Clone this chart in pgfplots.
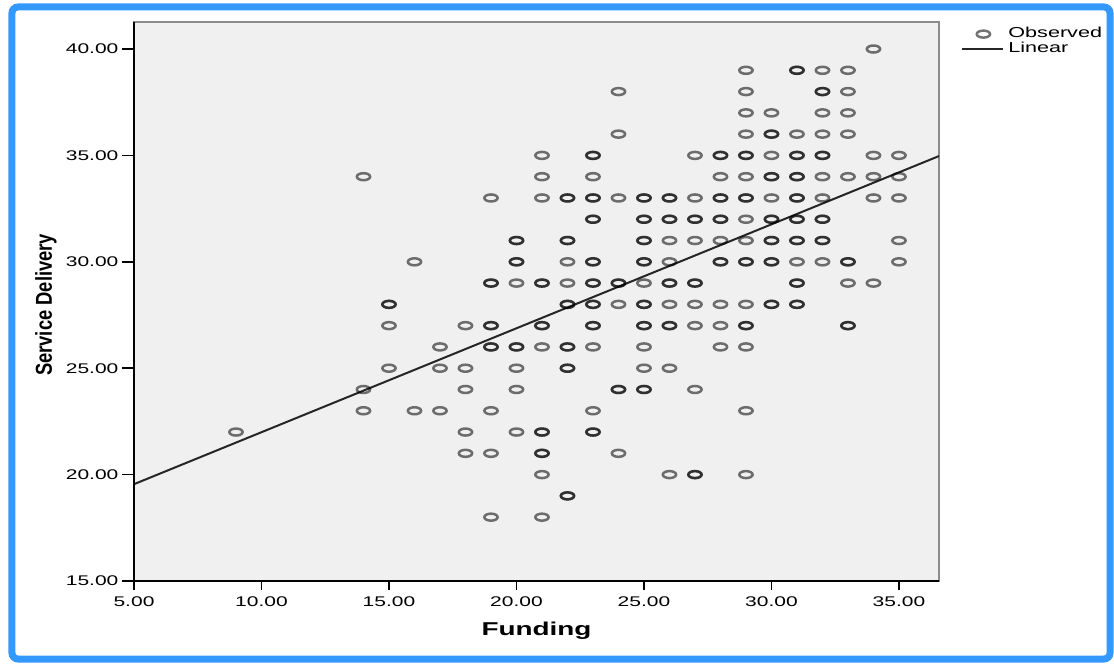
\documentclass[border=0pt]{standalone}
\usepackage{pgfplots}
\pgfplotsset{compat=1.18}
\usepackage{fontspec}
\setmainfont{Liberation Sans}
\newfontfamily\widefont[FakeStretch=1.5]{Liberation Sans}
\newfontfamily\narrowfont[FakeStretch=0.8]{Liberation Sans}
\definecolor{frameblue}{RGB}{51,153,255}
\definecolor{plotbg}{RGB}{240,240,240}
\definecolor{boxgray}{RGB}{140,140,140}
\begin{document}
\begin{tikzpicture}
\useasboundingbox (-67pt,-41.5pt) rectangle (490pt,290.5pt);
\begin{axis}[
  name=ax, at={(0,0)}, anchor=south west,
  scale only axis, width=402.5pt, height=279.5pt,
  xmin=5, xmax=36.57, ymin=15, ymax=41.27,
  clip=false,
  axis background/.style={fill=plotbg},
  axis line style={boxgray, line width=1pt},
  xtick={5,10,...,35}, ytick={15,20,...,40},
  xtick pos=bottom, ytick pos=left,
  minor tick num=0,
  tick align=outside,
  xtick style={/pgfplots/major tick length=4.5pt, black, line width=0.75pt},
  ytick style={/pgfplots/major tick length=6pt, black, line width=0.75pt},
  /pgf/number format/assume math mode=true,
  xticklabel style={/pgf/number format/fixed, /pgf/number format/fixed zerofill, /pgf/number format/precision=2},
  yticklabel style={/pgf/number format/fixed, /pgf/number format/fixed zerofill, /pgf/number format/precision=2},
  tick label style={font=\widefont\fontsize{7}{8}\selectfont},
  scaled ticks=false,
  xlabel={Funding},
  xlabel style={at={(axis description cs:0.5,-0.0894)}, anchor=center, font=\widefont\bfseries\fontsize{9.3}{11}\selectfont},
  ylabel={Service Delivery},
  ylabel style={at={(axis description cs:-0.1093,0.494)}, anchor=center, font=\narrowfont\bfseries\fontsize{11.5}{13}\selectfont},
  legend style={draw=none, fill=none, at={(axis description cs:1,1)}, anchor=north west, xshift=11pt, yshift=-0.5pt, font=\widefont\fontsize{7.2}{8}\selectfont, inner sep=0pt, row sep=-3.5pt, /tikz/every even column/.style={column sep=0pt}},
  legend cell align=left,
  legend image code/.code={\draw[mark repeat=2,mark phase=2,#1] plot coordinates {(0pt,0pt) (10.5pt,0pt) (20.5pt,0pt)};},
]
\addplot[only marks, mark=o, mark size=1.75pt,
  mark options={xscale=1.9, draw=black, draw opacity=0.55, line width=1.25pt}]
coordinates {
(9,22)
(14,34) (14,24) (14,23)
(15,28) (15,28) (15,27) (15,25)
(16,30) (16,23)
(17,26) (17,25) (17,23)
(18,27) (18,25) (18,24) (18,22) (18,21)
(19,33) (19,29) (19,29) (19,27) (19,27) (19,26) (19,26) (19,23) (19,21) (19,18)
(20,31) (20,31) (20,30) (20,30) (20,29) (20,26) (20,26) (20,25) (20,24) (20,22)
(21,35) (21,34) (21,33) (21,29) (21,29) (21,27) (21,27) (21,26) (21,22) (21,22) (21,21) (21,21) (21,20) (21,18)
(22,33) (22,33) (22,31) (22,31) (22,30) (22,29) (22,28) (22,28) (22,26) (22,26) (22,25) (22,25) (22,19) (22,19)
(23,35) (23,35) (23,34) (23,33) (23,33) (23,32) (23,32) (23,30) (23,30) (23,29) (23,29) (23,28) (23,28) (23,27) (23,27) (23,26) (23,23) (23,22) (23,22)
(24,38) (24,36) (24,33) (24,29) (24,29) (24,28) (24,24) (24,24) (24,21)
(25,33) (25,33) (25,32) (25,32) (25,31) (25,31) (25,30) (25,30) (25,29) (25,28) (25,28) (25,27) (25,27) (25,26) (25,25) (25,24) (25,24)
(26,33) (26,33) (26,32) (26,32) (26,31) (26,30) (26,29) (26,29) (26,28) (26,27) (26,27) (26,25) (26,20)
(27,35) (27,33) (27,32) (27,32) (27,31) (27,29) (27,29) (27,28) (27,27) (27,24) (27,20) (27,20)
(28,35) (28,35) (28,34) (28,33) (28,33) (28,32) (28,32) (28,31) (28,30) (28,30) (28,28) (28,27) (28,26)
(29,39) (29,38) (29,37) (29,36) (29,35) (29,35) (29,34) (29,33) (29,33) (29,32) (29,31) (29,30) (29,30) (29,28) (29,27) (29,27) (29,26) (29,23) (29,20)
(30,37) (30,36) (30,36) (30,35) (30,34) (30,34) (30,33) (30,32) (30,32) (30,31) (30,31) (30,30) (30,30) (30,28) (30,28)
(31,39) (31,39) (31,36) (31,35) (31,35) (31,34) (31,34) (31,33) (31,33) (31,32) (31,32) (31,31) (31,31) (31,30) (31,29) (31,29) (31,28) (31,28)
(32,39) (32,38) (32,38) (32,37) (32,36) (32,35) (32,35) (32,34) (32,33) (32,32) (32,32) (32,31) (32,31) (32,30)
(33,39) (33,38) (33,37) (33,36) (33,34) (33,30) (33,30) (33,29) (33,27) (33,27)
(34,40) (34,35) (34,34) (34,33) (34,29)
(35,35) (35,34) (35,33) (35,31) (35,30)
};
\addplot[black!85, line width=1pt, no marks] coordinates {(5,19.55) (36.57,34.97)};
\legend{Observed, Linear}
\draw[black, line width=0.8pt] (rel axis cs:0,1) -- (rel axis cs:0,0) -- (rel axis cs:1,0);
\end{axis}
\draw[frameblue, line width=3.5pt, rounded corners=3pt] (-61pt,-39pt) rectangle (488pt,287pt);
\end{tikzpicture}
\end{document}
